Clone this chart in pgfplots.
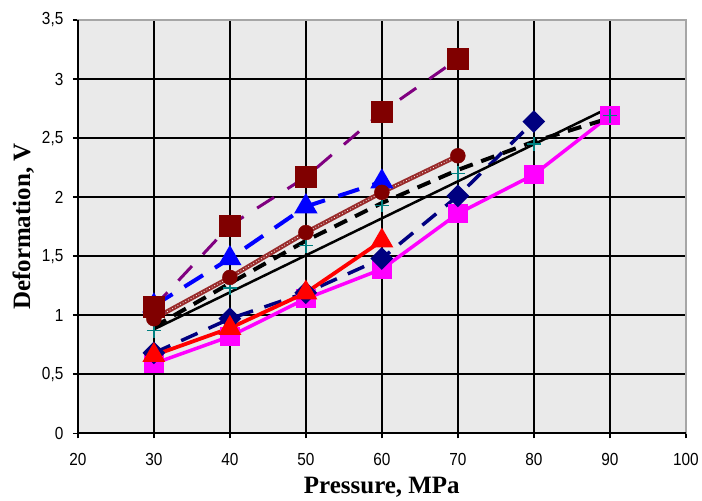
\documentclass[border=0pt]{standalone}
\usepackage{fontspec}
\setmainfont{Liberation Serif}
\newfontfamily\tickfont[FakeStretch=0.88]{Liberation Sans}
\usepackage{pgfplots}
\pgfplotsset{compat=1.18}
\definecolor{bgray}{HTML}{EAEAEA}
\definecolor{dred}{HTML}{800000}
\definecolor{purp}{HTML}{800080}
\definecolor{navyc}{HTML}{000080}
\definecolor{brownl}{HTML}{9A2C2C}
\definecolor{tealc}{HTML}{008080}
\definecolor{magc}{HTML}{FF00FF}
\begin{document}
\begin{tikzpicture}
\begin{axis}[
  scale only axis,
  width=609pt, height=414pt,
  xmin=20, xmax=100, ymin=0, ymax=3.5,
  xtick={20,30,...,100},
  ytick={0,0.5,...,3.5},
  /pgf/number format/assume math mode=true,
  /pgf/number format/use comma,
  tick label style={font=\fontsize{17.5}{19}\tickfont},
  xticklabel style={yshift=-12pt},
  yticklabel style={xshift=-6pt},
  axis background/.style={fill=bgray},
  grid=major,
  grid style={black, line width=1.5pt},
  axis line style={draw=gray!70, line width=1.6pt},
  tick align=outside,
  xtick pos=left, ytick pos=left,
  major tick length=5pt,
  tick style={black, line width=1.5pt},
  xlabel={Pressure, MPa},
  ylabel={Deformation, V},
  label style={font=\fontsize{25}{28}\selectfont\bfseries},
  xlabel style={at={(axis description cs:0.5,-0.13)}, anchor=center},
  ylabel style={at={(axis description cs:-0.09,0.5)}, anchor=center},
  clip=false,
]
% magenta squares
\addplot[magc, line width=3.5pt, mark=square*, mark size=8pt, mark options={solid}]
  coordinates {(30,0.59) (40,0.82) (50,1.14) (60,1.39) (70,1.86) (80,2.19) (90,2.69)};
% navy diamonds, dashed
\addplot[navyc, line width=3.5pt, dash pattern=on 18pt off 12pt, mark=square*, mark size=6.3pt, mark options={solid, rotate=45}]
  coordinates {(30,0.68) (40,0.97) (50,1.19) (60,1.48) (70,2.01) (80,2.64)};
% red triangles
\addplot[red, line width=3.8pt, mark=triangle*, mark size=9.5pt, mark options={solid}]
  coordinates {(30,0.66) (40,0.89) (50,1.19) (60,1.63)};
% teal plus marks
\addplot[tealc, only marks, mark=+, mark size=7pt, mark options={line width=1.4pt}]
  coordinates {(30,0.87) (40,1.23) (50,1.59) (60,1.93) (70,2.20) (80,2.45) (90,2.69)};
% black dashed trend
\addplot[black, line width=4pt, dash pattern=on 14pt off 9pt]
  coordinates {(30,0.90) (40,1.27) (50,1.63) (60,1.95) (70,2.23) (80,2.47) (90,2.67)};
% black solid trend
\addplot[black, line width=2.5pt]
  coordinates {(30,0.88) (90,2.76)};
% blue triangles, dashed
\addplot[blue, line width=4pt, dash pattern=on 22pt off 14pt, mark=triangle*, mark size=9.5pt, mark options={solid}]
  coordinates {(30,1.08) (40,1.48) (50,1.92) (60,2.13)};
% brown hatched line with circles
\addplot[brownl, line width=4.5pt]
  coordinates {(30,0.97) (40,1.32) (50,1.70) (60,2.04) (70,2.35)};
\addplot[white, line width=0.8pt, dash pattern=on 0.8pt off 2.2pt]
  coordinates {(30,0.97) (40,1.32) (50,1.70) (60,2.04) (70,2.35)};
\addplot[dred, only marks, mark=*, mark size=7.5pt]
  coordinates {(30,0.97) (40,1.32) (50,1.70) (60,2.04) (70,2.35)};
% purple dashed with dark red squares
\addplot[purp, line width=3pt, dash pattern=on 20pt off 16pt]
  coordinates {(30,1.07) (40,1.76) (50,2.17) (60,2.72) (70,3.17)};
\addplot[dred, only marks, mark=square*, mark size=10.5pt]
  coordinates {(30,1.07) (40,1.76) (50,2.17) (60,2.72) (70,3.17)};
\draw[black, line width=1.8pt] (rel axis cs:0,1) -- (rel axis cs:0,0) -- (rel axis cs:1,0);
\end{axis}
\path (current axis.south west) ++(-78pt,-65pt) (current axis.north east) ++(15pt,20pt);
\end{tikzpicture}
\end{document}
